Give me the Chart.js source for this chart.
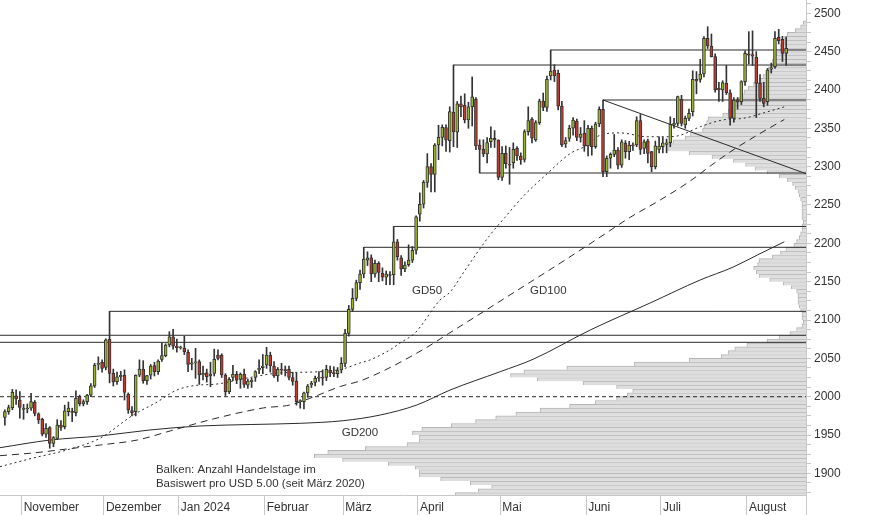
<!DOCTYPE html>
<html><head><meta charset="utf-8">
<script src="https://cdn.jsdelivr.net/npm/chart.js@4.4.1/dist/chart.umd.min.js"></script>
<style>html,body{margin:0;padding:0;background:#fff;}#wrap{width:874px;height:515px;}</style>
</head><body><div id="wrap"><canvas id="c" width="874" height="515"></canvas></div>
<script>
// ---- categories / ticks ----
const months = ['November','Dezember','Jan 2024','Februar','März','April','Mai','Juni','Juli','August'];
const monthStart = [5,27,47,70,91,111,133,156,176,199]; // trading-day index of first day of month
const yLabels = [1900,1950,2000,2050,2100,2150,2200,2250,2300,2350,2400,2450,2500];

// ---- daily candles (trading-day index 0 = 25 Oct 2023) ----
const open = [1973,1980.5,1985.7,2001,1995.7,1983.5,1984,1985,1992.7,1977.5,
1970.5,1951,1959.6,1939.2,1945.7,1963,1961,1980.5,1981,1979,
2000,1990.5,1993.5,2002,2014,2042,2044.8,2038.3,2074.8,2030.5,
2019.6,2026,2028,2003,1982,1980.5,2028,2036,2021,2028,
2040.5,2032.7,2048.7,2053.5,2067.4,2078,2066,2063.5,2063,2058,
2042.5,2044,2045.7,2028.3,2031,2027,2030.4,2054.4,2054.4,2028.3,
2006.5,2025,2029,2022.6,2029,2015,2019.6,2025,2035,2038,
2041.3,2054,2040,2027,2036,2034.5,2035.7,2025,2020.4,1993.5,
1993.5,2005,2015.2,2018.7,2024,2025.5,2025,2034.8,2031,2030,
2035,2043.5,2082.6,2113.9,2128.3,2148.7,2160,2178,2181,2160,
2174,2161,2156,2159,2159,2202,2181,2166.5,2172,2178,
2191,2238,2251,2279.5,2300,2290,2328.2,2338.2,2351,2334,
2370.8,2345,2382,2380,2361,2378,2388,2328,2322.6,2316.5,
2332.6,2337,2334.7,2286,2317.3,2303,2305.2,2323.9,2313.9,2309.5,
2345.6,2362,2334.7,2357.3,2385.6,2377.3,2418.2,2426,2421.7,2379,
2329.5,2336.9,2350,2359.5,2338.2,2343.4,2327,2350,2326,2355.6,
2374.7,2293.4,2311,2316,2321.7,2302,2330.4,2319.5,2328.2,2328.2,
2359.9,2323.9,2333.8,2319.5,2300,2322.6,2326,2329,2331.2,2354.3,
2356.5,2387.8,2354.3,2363,2371.7,2413.8,2413.8,2420.8,2467.3,2457.3,
2443.4,2402,2400,2408.6,2396.4,2363,2387,2384.7,2410.8,2447,
2446,2442.5,2408.5,2389,2384.6,2427.2,2430.3,2468.5,2465.9,2447.6];
const high = [1983,1989,2009.5,2009,2006.6,1990,1990.5,2004.4,1995,1979,
1972,1965,1961,1948,1970,1969,1989,1993,1985,2007.5,
2002,1996,2003,2017,2043.5,2052,2048,2075.5,2111.3,2036,
2032,2033,2035,2005,1987,2028.5,2048,2047,2028,2042,
2045,2048,2070,2069,2084.8,2088,2075,2066,2079,2061,
2050,2063,2048,2040,2036,2045,2062,2061,2056,2030,
2025,2041,2033,2031,2036,2023,2024,2034,2048,2055,
2064.4,2058,2045.7,2038,2043.5,2040,2040,2032,2031,1996,
2006,2016,2020,2027,2032.6,2035,2041,2040,2039,2038,
2051,2088,2119,2141,2152,2165,2194.8,2189,2185,2178,
2176,2168,2164,2163,2222,2205,2184,2176,2198,2196,
2236,2266,2282,2317,2304,2330,2354,2354.5,2354.5,2378,
2432.5,2385,2392,2395,2384,2417,2390,2335,2335,2338,
2352,2347,2335,2326,2327,2325,2331,2326,2318,2348,
2378,2364,2360,2388,2396,2418,2452.1,2433,2426,2385,
2338,2354,2364,2362,2351,2360,2354,2353,2358,2378,
2386.9,2314,2318,2342,2325,2335,2334,2333,2331,2365,
2368,2335,2336,2320,2333.4,2339,2338,2336,2365,2363,
2392,2393,2366,2375,2425,2424,2440,2469.5,2482.5,2473,
2447,2410,2412,2432,2400,2390,2390,2412,2451,2476,
2477,2450,2420,2410,2428,2435,2476,2479,2470,2469];
const low = [1963,1977,1983,1990,1972,1970.5,1979,1982,1975,1965,
1948.8,1947,1932.7,1934.8,1944,1956,1958,1975,1967.5,1975,
1988,1988,1990,2000,2012,2035,2032,2035,2018,2014,
2016,2021,1995.7,1978.3,1975,1975,2026,2017.5,2016,2023,
2027,2029,2046,2052,2065,2062,2058,2062,2055,2032.6,
2035,2024,2016,2022,2019,2013,2027,2048,2025,2001.5,
2004,2021,2017,2011,2012,2010.9,2012,2020,2030,2030,
2037,2032,2025,2020,2029,2027,2022,2015,1989,1985,
1984,1999,2012,2014,2020,2015,2021,2026,2026,2025,
2031,2039,2079,2111,2125,2140,2155,2171,2150,2156,
2150,2151,2146,2146,2146,2178,2158,2163,2170,2175,
2186,2229,2246,2273,2267,2267,2309,2327,2320,2319,
2326,2325,2365,2357,2350,2353,2322,2291.7,2313,2305,
2325,2325,2283,2282,2298,2277,2298,2308,2303,2306,
2341,2331,2333,2355,2373,2372,2413,2411,2374,2326,
2325,2333,2341,2334,2332,2320,2314,2315,2324,2352,
2287,2286.9,2298,2313,2297,2299,2311,2309,2321,2326,
2316,2317,2305,2293.5,2297,2318,2318,2318,2326,2350,
2353,2353,2350,2360,2366,2395,2410,2417,2454,2443,
2397,2385,2385,2394,2354,2358,2375,2381,2406,2434,
2432,2364,2385,2378,2380,2422,2428,2460,2437,2432];
const close = [1980.5,1985.7,2005.7,1997,1986,1985,1984.5,1993.5,1978.3,1969.6,
1951,1958.8,1939.2,1946.6,1963,1960,1981.4,1985,1979.5,1998,
1991,1993.5,2002,2014,2041,2043.5,2037,2074,2030.5,2019.6,
2026,2028,2005.7,1982.7,1979,2028,2036,2021,2027.4,2040,
2032.7,2046.6,2053.5,2067.4,2078,2066,2064,2064.5,2058.7,2042,
2044,2045,2028.3,2030.4,2026,2029.6,2048.7,2050,2028.3,2006.5,
2022.6,2029,2021.7,2029,2016,2020.5,2021.7,2032.6,2037,2040,
2054.4,2040.5,2027,2035.7,2034.5,2034,2025,2020,1993.5,1994,
2005,2013.9,2017.4,2024,2025.5,2024,2035.7,2031,2030,2034,
2043.5,2082.6,2113.9,2128.3,2148.7,2160,2179.5,2181,2160,2174,
2162,2156,2160,2158,2202,2182.6,2166.5,2171.7,2178,2191,
2234.7,2251,2279.5,2300,2290,2328.2,2338.2,2351.2,2334.7,2371.7,
2345.6,2382,2378,2361,2378,2391,2327,2322.6,2316.5,2331.3,
2337,2335,2286,2317.3,2304,2302,2322.6,2313.9,2308.7,2345.6,
2360,2337,2357.3,2385.6,2377.3,2413.8,2424.7,2418.2,2379,2328.2,
2333.9,2349.9,2360.8,2338.2,2342.6,2327,2350,2326,2355.6,2374.7,
2293.4,2310.8,2316,2321.7,2302,2332.5,2319.5,2328.2,2327,2359.9,
2322.6,2332.5,2317.3,2300,2327,2326.9,2331.2,2331,2355.1,2356.5,
2391.2,2356.5,2363,2369.5,2413.8,2411.7,2420.8,2467.3,2457.3,2443.4,
2400,2400,2409.5,2396.4,2363,2386.9,2384,2410.8,2447.7,2445.5,
2444,2408.5,2389,2382.4,2425.9,2429,2467.2,2464.2,2447.6,2454.2];

// ---- moving averages [trading-day index, value] ----
const gd50 = [[-1.3,1908.7],[7.5,1920],[16.6,1930.5],[25.5,1946],[34.3,1976],[40.7,1993],[46,2008.7],[52.2,2015.3],[55.7,2016],[64.8,2024.4],[73.6,2031],[82.5,2032.2],[88.9,2034.8],[91.3,2037.5],[95,2044],[97.7,2048],[103,2061],[105.7,2070],[109.7,2083],[111.1,2091],[116.4,2126],[119.1,2136.5],[123.1,2165],[129.8,2211],[133.8,2234],[138.6,2261],[145.1,2291],[151.2,2317],[155.8,2328],[159.2,2341],[164.6,2344],[171.8,2339],[178,2339],[180.7,2341],[186,2352],[192.2,2361],[197.5,2363],[202.9,2370],[208.5,2378]];
const gd100 = [[-1.3,1923.1],[7.5,1926.6],[16.6,1931.8],[25.5,1937],[35.4,1943.5],[44.2,1955.3],[55.7,1970.9],[69.1,1985.3],[76.3,1989.2],[82.5,1999.6],[89.7,2013.3],[95,2020.5],[101.7,2034.8],[112.4,2063],[118.6,2082],[127.1,2108],[137.8,2141],[148.5,2174],[159.2,2208],[167.3,2234],[175.3,2256.5],[183.3,2281.2],[188.7,2300.8],[194.8,2321.7],[201.3,2341.2],[208.5,2361.5]];
const gd200 = [[-1.3,1933.5],[12.1,1943.5],[25.5,1948.8],[38.8,1956.6],[52.2,1961.8],[65.6,1963.7],[79,1965.3],[90.5,1968.7],[100.4,1976.1],[110.2,1989.2],[119.1,2008.7],[132.5,2032.6],[141.3,2048.8],[156.6,2087],[172.6,2122.2],[186,2152.2],[194.8,2169],[201.3,2184.8],[208.5,2202]];

// ---- support / resistance levels ----
const levelValue = [2080.1, 2070.9, 2111.3, 2194.8, 2222, 2432.5, 2291.7, 2452.1, 2386.9];
const levelStart = [null, null, 28, 96, 104, 120, 127, 146, 160]; // null = from left edge
const trendFrom = [160, 2386.9];
const trendTo = [214.3, 2290.8];
const refLevel = 2000;

// ---- volume-at-price profile: trading days per USD 5 bin ----
const profileBins = [1872.5,1877.5,1882.5,1887.5,1892.5,1897.5,1902.5,1907.5,1912.5,1917.5,
1922.5,1927.5,1932.5,1937.5,1942.5,1947.5,1952.5,1957.5,1962.5,1967.5,
1972.5,1977.5,1982.5,1987.5,1992.5,1997.5,2002.5,2007.5,2012.5,2017.5,
2022.5,2027.5,2032.5,2037.5,2042.5,2047.5,2052.5,2057.5,2062.5,2067.5,
2072.5,2077.5,2082.5,2087.5,2092.5,2097.5,2102.5,2107.5,2112.5,2117.5,
2122.5,2127.5,2132.5,2137.5,2142.5,2147.5,2152.5,2157.5,2162.5,2167.5,
2172.5,2177.5,2182.5,2187.5,2192.5,2197.5,2202.5,2207.5,2212.5,2217.5,
2222.5,2227.5,2232.5,2237.5,2242.5,2247.5,2252.5,2257.5,2262.5,2267.5,
2272.5,2277.5,2282.5,2287.5,2292.5,2297.5,2302.5,2307.5,2312.5,2317.5,
2322.5,2327.5,2332.5,2337.5,2342.5,2347.5,2352.5,2357.5,2362.5,2367.5,
2372.5,2377.5,2382.5,2387.5,2392.5,2397.5,2402.5,2407.5,2412.5,2417.5,
2422.5,2427.5,2432.5,2437.5,2442.5,2447.5,2452.5,2457.5,2462.5,2467.5,
2472.5,2477.5,2482.5,2487.5];
const profileDays = [261,244,234,250,272,288,288,291,311,345,
366,356,328,297,288,288,293,286,264,246,
231,216,198,176,157,141,133,129,141,166,
200,220,210,178,128,87,63,58,53,44,
29,20,12,7,3,2,3,3,4,5,
6,6,6,7,11,17,27,35,37,39,
36,35,25,19,15,9,7,5,4,3,
3,2,3,3,3,3,3,4,5,6,
8,10,14,20,29,38,45,54,70,87,
103,103,99,90,86,77,76,74,73,62,
58,55,54,51,49,46,43,39,35,32,
30,28,25,25,23,22,19,19,16,16,
14,8,4,2];

// ---- text notes ----
const noteText = ['GD50','GD100','GD200','Balken: Anzahl Handelstage im','Basiswert pro USD 5.00 (seit März 2020)'];
const noteIdx = [108.9, 140.5, 90.1, 40.4, 40.4];
const noteVal = [2133.5, 2133.5, 1948.8, 1900.1, 1882.6];

// ---------------------------------------------------------------
const X_MIN = -1.307, X_MAX = 214.3, Y_MIN = 1871.8, Y_MAX = 2517.3;
const GREEN = '#98b52a', RED = '#c03a2b', INK = '#2a2a2a', AXIS = '#c8c8c8';

const lineDs = (pts, dash, order) => ({
  type: 'line', data: pts.map(p => ({x: p[0], y: p[1]})), xAxisID: 'x', yAxisID: 'y',
  borderColor: INK, borderWidth: 1, borderDash: dash, pointRadius: 0, fill: false,
  tension: 0, order: order, clip: 0
});
const datasets = [];
datasets.push({
  type: 'bar', label: 'profile', indexAxis: 'y', xAxisID: 'x2', yAxisID: 'y2',
  data: profileBins.map((b, i) => ({y: b, x: profileDays[i]})),
  backgroundColor: '#dedede', borderColor: '#b4b4b4',
  borderWidth: {top: 1, bottom: 0, left: 1, right: 0}, borderSkipped: false,
  barPercentage: 1, categoryPercentage: 1, grouped: false, order: 20, clip: 0
});
datasets.push(lineDs([[X_MIN, refLevel], [X_MAX, refLevel]], [4, 3], 8));
levelValue.forEach((v, k) => {
  const s = levelStart[k] === null ? X_MIN : levelStart[k];
  datasets.push(lineDs([[s, v], [X_MAX, v]], [], 7));
});
datasets.push(lineDs([trendFrom, trendTo], [], 7));
const ma50 = lineDs(gd50, [2, 3], 6); ma50.cubicInterpolationMode = 'monotone';
const ma100 = lineDs(gd100, [7, 5], 6); ma100.cubicInterpolationMode = 'monotone';
const ma200 = lineDs(gd200, [], 6); ma200.cubicInterpolationMode = 'monotone';
datasets.push(ma50, ma100, ma200);
datasets.push({
  type: 'bar', label: 'wick', xAxisID: 'x', yAxisID: 'y',
  data: low.map((l, i) => ({x: i, y: [l, high[i]]})),
  barThickness: 1, grouped: false, backgroundColor: '#333', borderWidth: 0, order: 2, clip: 0
});
datasets.push({
  type: 'bar', label: 'body', xAxisID: 'x', yAxisID: 'y',
  data: open.map((o, i) => ({x: i, y: [o, close[i]]})),
  barThickness: 3, grouped: false, minBarLength: 1,
  backgroundColor: c => close[c.dataIndex] >= open[c.dataIndex] ? GREEN : RED,
  borderColor: '#333', borderWidth: 1, borderSkipped: false, order: 1, clip: 0
});

const notes = {
  id: 'notes',
  afterDatasetsDraw(chart) {
    const {ctx} = chart, sx = chart.scales.x, sy = chart.scales.y;
    ctx.save();
    ctx.fillStyle = '#333';
    ctx.font = '11.5px "Liberation Sans", Arial, sans-serif';
    ctx.textAlign = 'left'; ctx.textBaseline = 'alphabetic';
    noteText.forEach((t, k) => ctx.fillText(t, sx.getPixelForValue(noteIdx[k]), sy.getPixelForValue(noteVal[k])));
    ctx.restore();
  }
};

new Chart(document.getElementById('c'), {
  type: 'bar',
  data: {datasets},
  plugins: [notes],
  options: {
    responsive: false, devicePixelRatio: 1, animation: false,
    layout: {padding: 0},
    plugins: {legend: {display: false}, tooltip: {enabled: false}},
    scales: {
      x: {
        type: 'linear', position: 'bottom', min: X_MIN, max: X_MAX, offset: false,
        grid: {drawOnChartArea: false, drawTicks: true, tickLength: 20, color: AXIS, offset: false},
        border: {color: AXIS},
        ticks: {
          autoSkip: false, maxRotation: 0, align: 'start', labelOffset: 2, padding: -15, color: '#333',
          font: {family: '"Liberation Sans", Arial, sans-serif', size: 12},
          callback: v => { const k = monthStart.findIndex(m => Math.abs(m - 0.5 - v) < 1e-6); return k >= 0 ? months[k] : ''; }
        },
        afterBuildTicks: s => { s.ticks = monthStart.map(m => ({value: m - 0.5})).concat([{value: X_MAX}]); },
        afterFit: s => { s.height = 20; s.paddingLeft = 0; s.paddingRight = 0; }
      },
      y: {
        type: 'linear', position: 'right', min: Y_MIN, max: Y_MAX, beginAtZero: false,
        grid: {drawOnChartArea: false, drawTicks: true, tickLength: 5, color: AXIS},
        border: {color: AXIS},
        ticks: {
          autoSkip: false, padding: 3, color: '#333',
          font: {family: '"Liberation Sans", Arial, sans-serif', size: 12},
          callback: v => yLabels.includes(v) ? String(v) : ''
        },
        afterBuildTicks: s => { const t = []; for (let v = 1875; v <= 2512.5; v += 12.5) t.push({value: v}); s.ticks = t; },
        afterFit: s => { s.width = 68; s.paddingTop = 0; s.paddingBottom = 0; }
      },
      x2: {type: 'linear', display: false, reverse: true, min: 0, max: 600, offset: false, grid: {offset: false}},
      y2: {type: 'linear', display: false, min: Y_MIN, max: Y_MAX, offset: false, beginAtZero: false}
    }
  }
});
</script></body></html>
